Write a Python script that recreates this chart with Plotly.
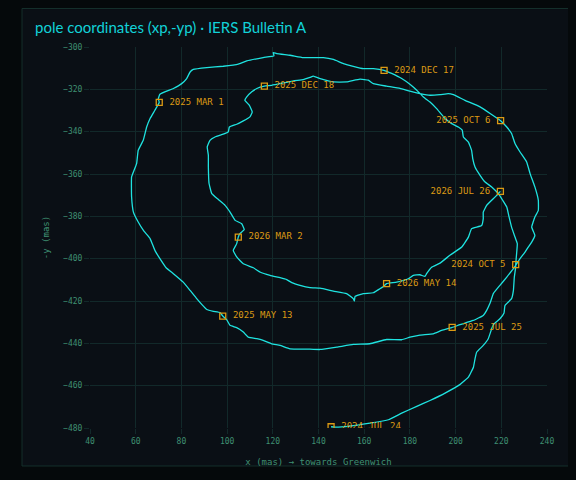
import plotly.graph_objects as go

# Polar motion track (x, -y) in mas, in time order
track_x = [145.5, 147.2, 153.8, 162.5, 170.6, 176.4, 183.0, 188.8, 195.4, 202.0, 205.6, 207.8, 208.5, 209.2,
           212.1, 214.3, 215.8, 216.5, 219.4, 221.2, 221.6, 224.5, 225.3, 225.7, 226.3, 226.3,
           226.7, 227.0, 226.0, 224.5, 223.4, 222.4, 220.6, 218.7, 215.8, 212.9, 210.7, 208.5, 207.5, 207.0,
           205.6, 203.4, 202.9, 201.2, 198.3, 195.4, 191.7, 188.8, 185.9, 183.0, 180.0, 176.4, 172.0, 168.7,
           164.0, 159.6, 155.2, 150.9, 146.5, 142.1, 137.5, 133.3, 127.5, 121.7, 120.2, 120.5, 115.8, 108.6,
           104.9, 98.3, 91.1, 85.2, 83.8, 82.3, 80.1, 76.5, 70.6, 69.9, 70.3,
           68.4, 66.3, 64.8, 63.3, 61.1, 60.4, 58.2, 58.2, 59.0, 61.1, 63.6, 66.3, 68.4, 70.6, 73.3, 76.5,
           80.8, 83.8, 86.7, 88.9, 91.1, 94.0, 96.9, 98.1,
           99.8, 101.3, 104.2, 107.1, 109.3, 113.0, 115.8, 119.5, 123.2, 127.5, 134.8, 140.7, 148.0, 155.2,
           162.5, 169.8, 176.4, 180.0, 184.4, 190.2, 193.9, 198.5,
           201.9, 207.7, 212.1, 213.6, 215.1, 216.5, 219.4, 222.4, 225.3, 228.2, 230.4, 231.8, 233.3, 234.7,
           233.3, 234.7, 236.2, 236.2, 234.7, 232.6, 231.1, 228.2, 226.0, 224.5, 222.4, 219.7,
           215.1, 210.7, 204.1, 199.0, 196.8, 193.2, 188.8, 184.4, 180.0, 175.7, 169.8, 164.0, 161.8, 158.2,
           152.3, 146.5, 140.7, 137.7, 136.3, 133.3, 129.0, 124.6, 119.5, 116.3,
           113.0, 110.8, 108.6, 107.8, 109.7, 111.0, 110.0, 107.1, 104.2, 101.0, 100.5, 98.3, 94.7, 92.5,
           91.3, 91.8, 91.8, 92.1, 93.3, 96.2, 99.1, 101.3, 103.5, 106.4, 107.5, 105.6, 104.9,
           104.2, 102.7, 104.2, 107.1, 111.5, 114.4, 118.8, 123.2, 126.1, 128.3, 131.9, 136.3, 140.7, 146.5,
           152.3, 155.2, 155.7, 156.0, 159.6, 164.0, 168.4, 169.8,
           174.2, 179.3, 181.5, 184.4, 186.6, 187.3, 189.5, 193.2, 197.5, 202.7, 205.6, 207.0, 211.4, 212.1,
           212.1, 213.6, 215.8, 218.0, 219.6]
track_y = [-479.4, -479.6, -479.1, -477.7, -476.1, -473.0, -469.8, -467.0, -463.5, -459.4, -456.0, -451.3, -447.3, -444.2,
           -441.0, -437.8, -433.1, -431.1, -428.4, -425.7, -422.1, -418.9, -415.0, -408.7, -404.0, -402.8,
           -397.6, -392.9, -389.8, -385.1, -380.3, -375.6, -372.4, -369.3, -366.1, -363.8, -360.6, -356.7, -352.7, -348.8,
           -344.9, -342.5, -339.3, -337.8, -336.2, -333.8, -329.1, -326.0, -323.6, -320.4, -317.6, -314.9, -312.5, -311.0,
           -310.2, -310.2, -309.1, -307.8, -305.9, -305.0, -305.0, -305.0, -303.9, -303.1, -302.6, -304.2, -305.0, -306.6,
           -308.1, -309.1, -309.7, -310.6, -311.8, -314.9, -317.3, -319.6, -322.3, -324.4, -326.2,
           -329.9, -333.8, -337.8, -344.1, -348.8, -355.1, -361.4, -370.9, -378.0, -382.7, -387.0, -390.5, -396.1, -400.0, -404.3, -407.1,
           -411.1, -415.0, -418.9, -421.6, -424.0, -424.9, -425.5, -427.1,
           -428.8, -431.5, -432.6, -434.7, -437.1, -437.8, -438.6, -440.2, -441.0, -442.6, -442.7, -442.9, -441.8, -440.5,
           -440.2, -438.2, -438.3, -437.1, -436.1, -435.5, -433.9, -432.5,
           -431.2, -429.2, -426.8, -424.4, -421.0, -416.5, -412.6, -408.7, -404.7, -400.0, -396.9, -394.5, -392.2, -389.0,
           -385.1, -380.3, -377.2, -372.4, -366.1, -359.8, -354.3, -349.6, -345.6, -340.9, -337.8, -334.8,
           -331.4, -328.3, -325.2, -322.5, -322.0, -322.5, -322.8, -322.0, -320.9, -319.6, -318.5, -317.3, -315.7, -315.2,
           -316.5, -316.5, -314.9, -313.8, -314.4, -315.4, -316.0, -317.0, -318.1, -318.5,
           -319.6, -321.2, -323.6, -325.2, -327.5, -330.7, -333.0, -334.9, -336.5, -337.8, -340.1, -341.2, -342.5, -344.1,
           -347.2, -351.2, -356.7, -364.5, -369.3, -372.1, -374.8, -378.0, -381.9, -383.5, -386.3, -388.2, -389.8,
           -392.9, -396.1, -399.2, -402.4, -404.3, -406.3, -407.9, -409.0, -409.9, -411.3, -412.6, -413.7, -413.9, -415.3,
           -416.5, -418.9, -420.0, -417.8, -416.5, -416.1, -413.1, -411.8,
           -411.1, -409.5, -407.9, -407.6, -408.4, -407.1, -404.0, -402.1, -398.4, -394.5, -389.8, -385.8, -384.3, -381.1,
           -378.0, -374.8, -372.4, -370.1, -368.2]

# Dated markers along the track
mark_labels = ["2024 JUL 24", "2024 OCT 5", "2024 DEC 17", "2025 MAR 1", "2025 MAY 13", "2025 JUL 25",
               "2025 OCT 6", "2025 DEC 18", "2026 MAR 2", "2026 MAY 14", "2026 JUL 26"]
mark_x = [145.5, 226.3, 168.7, 70.3, 98.1, 198.5, 219.7, 116.3, 104.9, 169.8, 219.6]
mark_y = [-479.4, -402.8, -311.0, -326.2, -427.1, -432.5, -334.8, -318.5, -389.8, -411.8, -368.2]

x_ticks = [40, 60, 80, 100, 120, 140, 160, 180, 200, 220, 240]
y_ticks = [-300, -320, -340, -360, -380, -400, -420, -440, -460, -480]

# styling
label_side = ["middle right", "middle left", "middle right", "middle right", "middle right", "middle right",
              "middle left", "middle right", "middle right", "middle right", "middle left"]
label_text = [(" " + t) if s.endswith("right") else (t + " ") for t, s in zip(mark_labels, label_side)]
CYAN = "#1fe3e0"
AMBER = "#dc9a14"
GRID = "#12292a"
TICK = "#3f8f72"
MONO = "DejaVu Sans Mono"

fig = go.Figure()
fig.add_trace(go.Scatter(x=track_x, y=track_y, mode="lines",
                         line=dict(color=CYAN, width=1.3, shape="spline", smoothing=0.3),
                         hoverinfo="skip", showlegend=False))
fig.add_trace(go.Scatter(x=mark_x, y=mark_y, mode="markers+text", text=label_text,
                         textposition=label_side,
                         textfont=dict(family=MONO, size=9, color=AMBER),
                         marker=dict(symbol="square-open", size=6, color=AMBER, line=dict(width=1.3, color=AMBER)),
                         showlegend=False))

fig.update_layout(
    width=584, height=480,
    paper_bgcolor="#05090b",
    plot_bgcolor="#0a0f15",
    margin=dict(l=82, r=45, t=39, b=60),
    shapes=[dict(type="path", xref="paper", yref="paper", layer="below",
                 path="M -0.1488,-0.0997 L 1.3,-0.0997 L 1.3,1.1010 L -0.1488,1.1010 Z",
                 fillcolor="#0a0f15", line=dict(color="#15302c", width=1))],
    annotations=[
        dict(text="pole coordinates (xp,-yp) · IERS Bulletin A", xref="paper", yref="paper",
             x=-0.1247, y=1.0525, xanchor="left", yanchor="middle", showarrow=False,
             font=dict(family="Lato", size=15, color="#12d2d8")),
    ],
    xaxis=dict(range=[40, 240], tickvals=x_ticks, showgrid=True, gridcolor=GRID, gridwidth=1,
               zeroline=False, showline=False, ticks="outside", ticklen=5, tickcolor=GRID,
               tickfont=dict(family=MONO, size=8, color=TICK),
               title=dict(text="x (mas) → towards Greenwich", font=dict(family=MONO, size=9, color=TICK), standoff=14)),
    yaxis=dict(range=[-480, -300], tickvals=y_ticks, showgrid=True, gridcolor=GRID, gridwidth=1,
               zeroline=False, showline=False, ticks="outside", ticklen=5, tickcolor=GRID,
               tickfont=dict(family=MONO, size=8, color=TICK),
               title=dict(text="-y (mas)", font=dict(family=MONO, size=9, color=TICK), standoff=11)),
)

fig.write_html("out.html", post_script="document.body.style.backgroundColor='#05090b';")
